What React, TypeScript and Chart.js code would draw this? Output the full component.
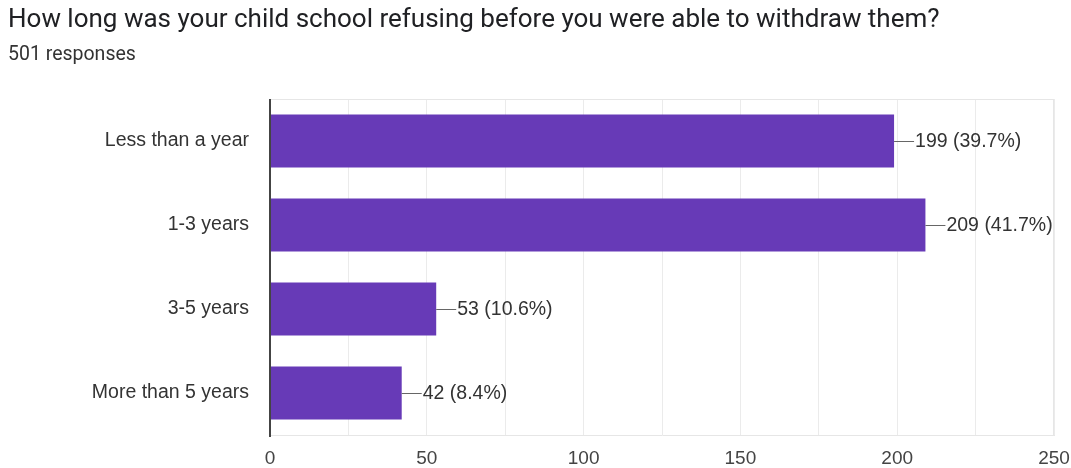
import React, { useEffect, useRef } from "react";
import { Chart, registerables } from "chart.js";
Chart.register(...registerables);

const TITLE = "How long was your child school refusing before you were able to withdraw them?";
const SUBTITLE = "501 responses";
const categories = ["Less than a year", "1-3 years", "3-5 years", "More than 5 years"];
const counts = [199, 209, 53, 42];
const percents = ["39.7%", "41.7%", "10.6%", "8.4%"];
const xTickValues = [0, 50, 100, 150, 200, 250];
const xGridValues = [0, 25, 50, 75, 100, 125, 150, 175, 200, 225, 250];

const FONT = "'Liberation Sans', Arial, sans-serif";
const TFONT = "Roboto, 'Liberation Sans', sans-serif";

const decorPlugin = {
  id: "decor",
  beforeDatasetsDraw(chart: any) {
    const { ctx, chartArea } = chart;
    ctx.save();
    ctx.strokeStyle = "#e6e6e6";
    ctx.lineWidth = 1;
    ctx.beginPath();
    ctx.moveTo(chartArea.left, chartArea.top + 0.5);
    ctx.lineTo(chartArea.right, chartArea.top + 0.5);
    ctx.moveTo(chartArea.right - 0.5, chartArea.top);
    ctx.lineTo(chartArea.right - 0.5, chartArea.bottom);
    ctx.stroke();
    ctx.restore();
  },
  afterDraw(chart: any) {
    const { ctx, chartArea } = chart;
    ctx.save();
    ctx.fillStyle = "#202124";
    ctx.textBaseline = "alphabetic";
    ctx.textAlign = "left";
    ctx.font = `26px ${TFONT}`;
    ctx.fillText(TITLE, 8, 27);
    ctx.fillStyle = "#333";
    ctx.font = `19.5px ${TFONT}`;
    ctx.fillText(SUBTITLE, 8, 60);
    // y axis line
    ctx.strokeStyle = "#444";
    ctx.lineWidth = 2;
    ctx.beginPath();
    ctx.moveTo(chartArea.left, chartArea.top);
    ctx.lineTo(chartArea.left, chartArea.bottom + 2);
    ctx.stroke();
    // value labels
    const meta = chart.getDatasetMeta(0);
    ctx.font = `19.5px ${FONT}`;
    ctx.textBaseline = "middle";
    meta.data.forEach((bar: any, i: number) => {
      const x = bar.x;
      const y = bar.y;
      ctx.strokeStyle = "#666";
      ctx.lineWidth = 1;
      ctx.beginPath();
      ctx.moveTo(x, Math.round(y) + 0.5);
      ctx.lineTo(x + 20, Math.round(y) + 0.5);
      ctx.stroke();
      ctx.fillStyle = "#333";
      ctx.fillText(`${counts[i]} (${percents[i]})`, x + 21, y + 1);
    });
    ctx.restore();
  },
};

export default function App() {
  const ref = useRef<HTMLCanvasElement>(null);
  useEffect(() => {
    if (!ref.current) return;
    const chart = new Chart(ref.current, {
      type: "bar",
      data: {
        labels: categories,
        datasets: [
          {
            data: counts,
            backgroundColor: "#673ab7",
            borderWidth: 0,
            barPercentage: 0.63,
            categoryPercentage: 1,
          },
        ],
      },
      options: {
        indexAxis: "y",
        animation: false,
        responsive: false,
        maintainAspectRatio: false,
        layout: { padding: { top: 99, right: 17, left: 0, bottom: 0 } },
        plugins: { legend: { display: false }, tooltip: { enabled: false }, title: { display: false } },
        scales: {
          x: {
            min: 0,
            max: 250,
            afterFit: (s: any) => {
              s.height = 33;
              s.paddingLeft = 0;
              s.paddingRight = 0;
            },
            afterBuildTicks: (s: any) => {
              s.ticks = xGridValues.map((v) => ({ value: v }));
            },
            ticks: {
              callback: (v: any) => (xTickValues.includes(Number(v)) ? String(v) : ""),
              color: "#444",
              font: { size: 19, family: FONT },
              padding: 12,
              maxRotation: 0,
              autoSkip: false,
            },
            grid: { color: "#ebebeb", drawTicks: false },
            border: { color: "#e6e6e6" },
          },
          y: {
            afterFit: (s: any) => {
              s.width = 270;
              s.paddingTop = 0;
              s.paddingBottom = 0;
            },
            ticks: { color: "#333", font: { size: 19.5, family: FONT }, padding: 21 },
            grid: { display: false, drawTicks: false },
            border: { display: false },
          },
        },
      },
      plugins: [decorPlugin],
    });
    return () => chart.destroy();
  }, []);
  return (
    <canvas
      ref={ref}
      width={1071}
      height={468}
      style={{ position: "fixed", left: 0, top: 0, width: 1071, height: 468, background: "#fff" }}
    />
  );
}
